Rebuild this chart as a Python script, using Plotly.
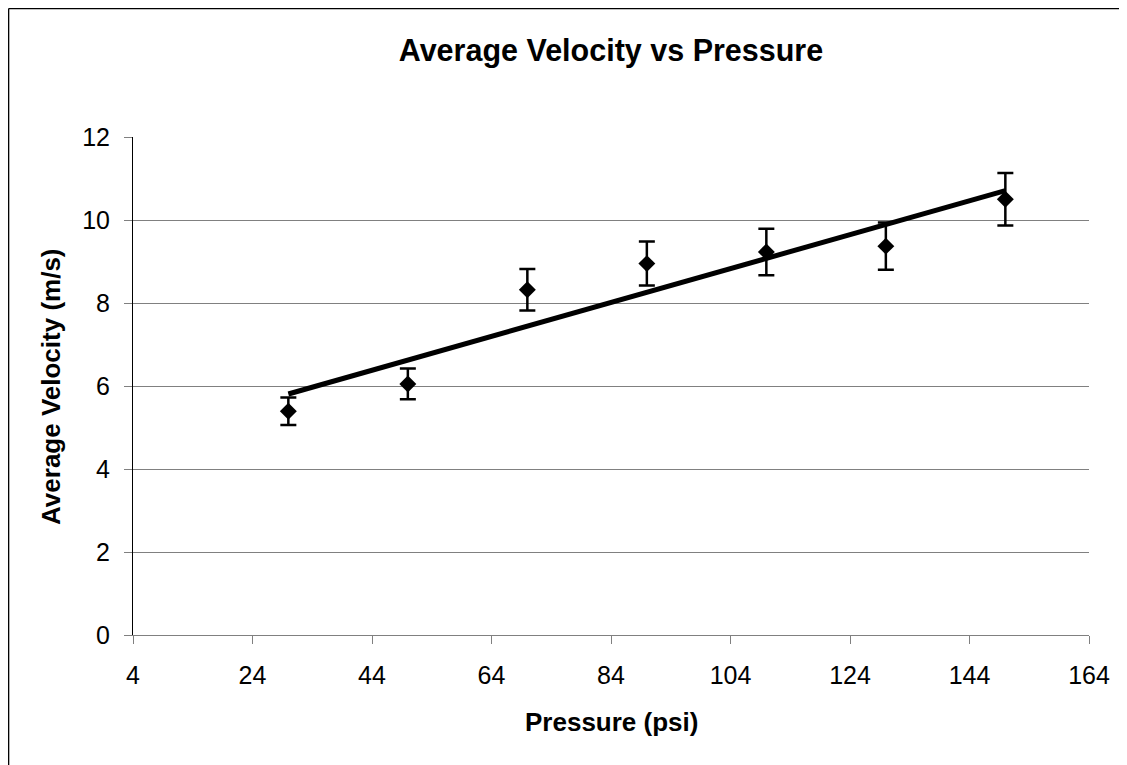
import numpy as np
import plotly.graph_objects as go

# Data
pressure_psi = [30, 50, 70, 90, 110, 130, 150]
avg_velocity = [5.39, 6.05, 8.32, 8.95, 9.23, 9.37, 10.50]
velocity_err = [0.33, 0.37, 0.50, 0.53, 0.56, 0.57, 0.63]
x_ticks = [4, 24, 44, 64, 84, 104, 124, 144, 164]
y_ticks = [0, 2, 4, 6, 8, 10, 12]

# Linear trendline (least squares)
slope, intercept = np.polyfit(pressure_psi, avg_velocity, 1)
trend_x = [pressure_psi[0], pressure_psi[-1]]
trend_y = [slope * x + intercept for x in trend_x]

OFF = 8  # page body margin
W, H = 1127 - OFF, 765 - OFF
# target screen positions of plot area
SX0, SX1, SY0, SY1 = 133, 1088.7, 137, 634.7
ML = SX0 - OFF
MR = W - (SX1 - OFF)
MT = SY0 - OFF
MB = H - (SY1 - OFF)
PW = W - ML - MR
PH = H - MT - MB

FONT = "Liberation Sans, Arial, sans-serif"

def px_x(sx):
    return (sx - SX0) / PW

def px_y(sy):
    return (SY1 - sy) / PH

fig = go.Figure()
fig.add_trace(go.Scatter(
    x=trend_x, y=trend_y, mode="lines",
    line=dict(color="black", width=5), showlegend=False, hoverinfo="skip"))
fig.add_trace(go.Scatter(
    x=pressure_psi, y=avg_velocity, mode="markers",
    marker=dict(symbol="diamond", size=13, color="black"),
    error_y=dict(type="data", array=velocity_err, visible=True,
                 color="black", thickness=2.5, width=8),
    showlegend=False))

fig.update_layout(
    width=W, height=H,
    margin=dict(l=ML, r=MR, t=MT, b=MB, autoexpand=False),
    paper_bgcolor="white", plot_bgcolor="white",
    font=dict(family=FONT, color="black", size=25),
    title=dict(text="<b>Average Velocity vs Pressure</b>", x=0.5, xanchor="center",
               xref="paper", y=1 - (50 - OFF) / H, yanchor="middle", yref="container",
               font=dict(size=30.5, family=FONT, color="black")),
    xaxis=dict(range=[4, 164], tickvals=x_ticks, ticktext=[str(v) for v in x_ticks],
               showgrid=False, zeroline=False, showline=True, linecolor="#808080",
               linewidth=1, ticks="outside", ticklen=8, tickcolor="#808080",
               ticklabelstandoff=10,
               tickfont=dict(size=25, family=FONT, color="black")),
    yaxis=dict(range=[0, 12], tickvals=y_ticks, showgrid=True, gridcolor="#808080",
               gridwidth=1, zeroline=False, showline=True, linecolor="black",
               linewidth=1, ticks="outside", ticklen=8, tickcolor="#808080",
               ticklabelstandoff=9,
               tickfont=dict(size=25, family=FONT, color="black")),
    annotations=[
        dict(text="<b>Pressure (psi)</b>", xref="paper", yref="paper",
             x=0.5, y=px_y(722), xanchor="center", yanchor="middle",
             showarrow=False, font=dict(size=26, family=FONT, color="black")),
        dict(text="<b>Average Velocity (m/s)</b>", xref="paper", yref="paper",
             x=px_x(51), y=0.5, xanchor="center", yanchor="middle", textangle=-90,
             showarrow=False, font=dict(size=26, family=FONT, color="black")),
    ],
    shapes=[
        dict(type="line", xref="paper", yref="paper",
             x0=px_x(OFF + 0.7), x1=px_x(1140), y0=px_y(OFF + 0.7), y1=px_y(OFF + 0.7),
             line=dict(color="black", width=1.3)),
        dict(type="line", xref="paper", yref="paper",
             x0=px_x(OFF + 0.7), x1=px_x(OFF + 0.7), y0=px_y(OFF + 0.7), y1=px_y(780),
             line=dict(color="black", width=1.3)),
    ],
)

fig.write_html("out.html")
